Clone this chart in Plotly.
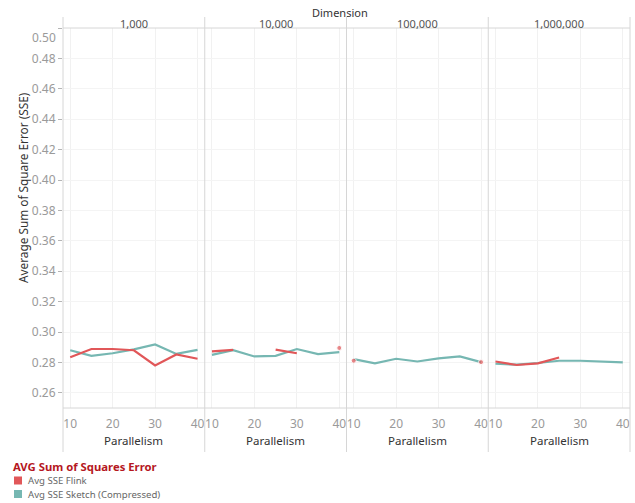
import plotly.graph_objects as go
from plotly.subplots import make_subplots

# Parallelism levels and dimension groups
parallelism = [10, 15, 20, 25, 30, 35, 40]
dimensions = ["1,000", "10,000", "100,000", "1,000,000"]

# Average SSE per dimension (None = no run recorded)
flink_1k = [0.2834, 0.2888, 0.2888, 0.2880, 0.2780, 0.2852, 0.2824]
sketch_1k = [0.2880, 0.2843, 0.2860, 0.2886, 0.2918, 0.2856, 0.2882]
flink_10k = [0.2873, 0.2882, None, 0.2884, 0.2860, None, 0.2895]
sketch_10k = [0.2850, 0.2880, 0.2839, 0.2843, 0.2888, 0.2854, 0.2867]
flink_100k = [0.2811, None, None, None, None, None, 0.2802]
sketch_100k = [0.2822, 0.2794, 0.2824, 0.2806, 0.2826, 0.2839, 0.2802]
flink_1m = [0.2806, 0.2783, 0.2794, 0.2832, None, None, None]
sketch_1m = [0.2791, 0.2785, 0.2796, 0.2811, 0.2811, 0.2806, 0.2800]

flink_series = [flink_1k, flink_10k, flink_100k, flink_1m]
sketch_series = [sketch_1k, sketch_10k, sketch_100k, sketch_1m]

y_ticks = [0.26, 0.28, 0.30, 0.32, 0.34, 0.36, 0.38, 0.40, 0.42, 0.44, 0.46, 0.48, 0.50]
x_ticks = [10, 20, 30, 40]

RED = "#e15759"
TEAL = "#76b7b2"
FONT = "Noto Sans"
GRID = "#f1f1f1"
SEP = "#d6d6d6"
TICK_GRAY = "#9a9a9a"

W, H = 635, 503
ML, MR, MT, MB = 63, 5, 28, 95
PW = W - ML - MR
PH = H - MT - MB


def px_x(px):
    return (px - ML) / PW


def px_y(py):
    return (H - MB - py) / PH


def isolated_sizes(vals, size):
    # a point with no neighbour on either side gets a visible dot
    out = []
    for i, v in enumerate(vals):
        left = vals[i - 1] if i > 0 else None
        right = vals[i + 1] if i < len(vals) - 1 else None
        out.append(size if (v is not None and left is None and right is None) else 0)
    return out


def label(text, x, y, size=11, color="#333333", xanchor="center", **kw):
    return dict(text=text, xref="paper", yref="paper", x=x, y=y,
                xanchor=xanchor, yanchor="middle", showarrow=False,
                font=dict(family=FONT, size=size, color=color), **kw)


fig = make_subplots(rows=1, cols=4, shared_yaxes=True, horizontal_spacing=0.0)

for c in range(4):
    for vals, color in ((sketch_series[c], TEAL), (flink_series[c], RED)):
        fig.add_trace(
            go.Scatter(
                x=parallelism, y=vals, mode="lines+markers",
                line=dict(color=color, width=2.2),
                marker=dict(color=color, size=isolated_sizes(vals, 5)),
                connectgaps=False, showlegend=False, hoverinfo="skip",
            ),
            row=1, col=c + 1,
        )
    fig.update_xaxes(
        range=[8.3, 41.7], tickvals=x_ticks, showgrid=True, gridcolor=GRID,
        gridwidth=1, zeroline=False, showline=False,
        ticks="outside", ticklen=5, tickcolor="rgba(0,0,0,0)",
        tickfont=dict(family=FONT, size=12, color=TICK_GRAY),
        row=1, col=c + 1,
    )

fig.update_yaxes(
    range=[0.25, 0.50], tickvals=y_ticks,
    ticktext=[f"{v:.2f}" if v < 0.5 else "" for v in y_ticks],
    showgrid=True, gridcolor="#f4f4f4", zeroline=False, showline=False,
    tickfont=dict(family=FONT, size=12, color=TICK_GRAY),
)
fig.update_yaxes(ticks="outside", ticklen=4, tickcolor="#b5b5b5", row=1, col=1)

shapes = []
# plot frame: header rule, bottom axis line, pane separators
shapes.append(dict(type="line", xref="paper", yref="paper", x0=0, x1=1, y0=1, y1=1,
                   line=dict(color=SEP, width=1)))
shapes.append(dict(type="line", xref="paper", yref="paper", x0=0, x1=1, y0=0, y1=0,
                   line=dict(color=SEP, width=1)))
for k in range(5):
    shapes.append(dict(type="line", xref="paper", yref="paper", x0=k / 4, x1=k / 4,
                       y0=px_y(452), y1=px_y(17), line=dict(color=SEP, width=1)))

annotations = []
annotations.append(label("Dimension", px_x(340), px_y(12)))
for c, d in enumerate(dimensions):
    annotations.append(label(d, (c + 0.5) / 4, px_y(23), color="#555555"))
    annotations.append(label("Parallelism", (c + 0.5) / 4, px_y(440), size=11.5))

# top y label sits just below its tick
annotations.append(dict(text="0.50", xref="paper", yref="y", x=0, y=0.50,
                        xanchor="right", yanchor="middle", xshift=-5, yshift=-9,
                        showarrow=False,
                        font=dict(family=FONT, size=12, color=TICK_GRAY)))

annotations.append(label("Average Sum of Square Error (SSE)", px_x(23), px_y(188),
                         size=11.8, textangle=-90))

# legend
annotations.append(label("<b>AVG Sum of Squares Error</b>", px_x(11), px_y(466),
                         size=11.3, color="#b5171e", xanchor="left"))
for text, color, cy in (("Avg SSE Flink", RED, 480.5), ("Avg SSE Sketch (Compressed)", TEAL, 494)):
    shapes.append(dict(type="rect", xref="paper", yref="paper",
                       x0=px_x(14), x1=px_x(22), y0=px_y(cy + 4), y1=px_y(cy - 4),
                       fillcolor=color, line=dict(width=0)))
    annotations.append(label(text, px_x(26), px_y(cy), size=9.6, color="#666666",
                             xanchor="left"))

fig.update_layout(
    width=W, height=H,
    margin=dict(l=ML, r=MR, t=MT, b=MB),
    plot_bgcolor="white", paper_bgcolor="white",
    showlegend=False,
    shapes=shapes, annotations=annotations,
)

fig.write_html("out.html")
